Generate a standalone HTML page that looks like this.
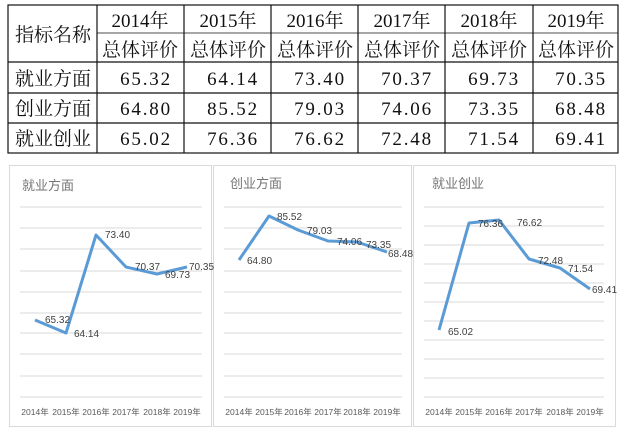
<!DOCTYPE html>
<html><head><meta charset="utf-8"><style>
body{margin:0;background:#fff;width:626px;height:441px;overflow:hidden}
svg{display:block}
.t{font-family:"Liberation Serif","Noto Serif CJK SC",serif;font-size:19px;fill:#111}
.n{letter-spacing:1.8px}
.ax{font-family:"Liberation Sans","Noto Sans CJK SC",sans-serif;font-size:8.5px;fill:#595959}
.lb{font-family:"Liberation Sans",sans-serif;font-size:10px;fill:#404040}
.ti{font-family:"Liberation Sans","Noto Sans CJK SC",sans-serif;font-size:13px;fill:#757575}
</style></head><body>
<svg width="626" height="441" viewBox="0 0 626 441">
<g stroke="#111" stroke-width="1.2" fill="none">
<rect x="8" y="5" width="610" height="148"/>
<line x1="8" y1="62" x2="618" y2="62"/>
<line x1="8" y1="93" x2="618" y2="93"/>
<line x1="8" y1="123" x2="618" y2="123"/>
<line x1="97" y1="33" x2="618" y2="33" stroke-width="0.8"/>
<line x1="97" y1="5" x2="97" y2="153"/>
<line x1="184" y1="5" x2="184" y2="153"/>
<line x1="271" y1="5" x2="271" y2="153"/>
<line x1="358" y1="5" x2="358" y2="153"/>
<line x1="445" y1="5" x2="445" y2="153"/>
<line x1="533" y1="5" x2="533" y2="153"/>
</g>
<g class="t" text-anchor="middle">
<text x="53" y="41">指标名称</text>
<text x="140" y="27">2014年</text><text x="228" y="27">2015年</text><text x="315" y="27">2016年</text><text x="402" y="27">2017年</text><text x="489" y="27">2018年</text><text x="576" y="27">2019年</text>
<text x="140" y="56">总体评价</text><text x="228" y="56">总体评价</text><text x="315" y="56">总体评价</text><text x="402" y="56">总体评价</text><text x="489" y="56">总体评价</text><text x="576" y="56">总体评价</text>
<text x="53" y="85">就业方面</text><text x="53" y="115">创业方面</text><text x="53" y="145">就业创业</text>
</g>
<g class="t n" text-anchor="middle">
<text x="146" y="85">65.32</text><text x="233" y="85">64.14</text><text x="320" y="85">73.40</text><text x="407" y="85">70.37</text><text x="494" y="85">69.73</text><text x="581" y="85">70.35</text>
<text x="146" y="115">64.80</text><text x="233" y="115">85.52</text><text x="320" y="115">79.03</text><text x="407" y="115">74.06</text><text x="494" y="115">73.35</text><text x="581" y="115">68.48</text>
<text x="146" y="145">65.02</text><text x="233" y="145">76.36</text><text x="320" y="145">76.62</text><text x="407" y="145">72.48</text><text x="494" y="145">71.54</text><text x="581" y="145">69.41</text>
</g>
<g stroke="#d9d9d9" fill="none" stroke-width="1">
<rect x="9.5" y="165.5" width="202" height="261"/>
<rect x="213.5" y="165.5" width="198" height="261"/>
<rect x="413.5" y="165.5" width="202" height="261"/>
</g>
<g stroke="#d9d9d9" stroke-width="1">
<path d="M20 207H202M20 228H202M20 249H202M20 271H202M20 292H202M20 313H202M20 333H202M20 354H202M20 376H202M20 397H202"/>
<path d="M224 207H402M224 228H402M224 249H402M224 271H402M224 292H402M224 313H402M224 333H402M224 354H402M224 376H402M224 397H402"/>
<path d="M424 207H604M424 226H604M424 245H604M424 264H604M424 283H604M424 302H604M424 321H604M424 340H604M424 359H604M424 378H604M424 397H604"/>
</g>
<g class="ti"><text x="22" y="190">就业方面</text><text x="230" y="188">创业方面</text><text x="432" y="188">就业创业</text></g>
<g fill="none" stroke="#5b9bd5" stroke-width="3" stroke-linejoin="round">
<polyline points="35,320 66,333 96,235 126,267 157,274 187,267"/>
<polyline points="239,260 269,216 298,230 328,241 357,242 387,252"/>
<polyline points="439,330 469,223 499,220 529,259 560,268 590,289"/>
</g>
<g class="lb">
<text x="45" y="323">65.32</text><text x="74" y="337">64.14</text><text x="105" y="238">73.40</text><text x="135" y="270">70.37</text><text x="165" y="278">69.73</text><text x="189" y="270">70.35</text>
<text x="247" y="264">64.80</text><text x="277" y="220">85.52</text><text x="307" y="234">79.03</text><text x="337" y="245">74.06</text><text x="366" y="248">73.35</text><text x="388" y="257">68.48</text>
<text x="448" y="335">65.02</text><text x="478" y="227">76.36</text><text x="517" y="226">76.62</text><text x="538" y="264">72.48</text><text x="568" y="272">71.54</text><text x="592" y="293">69.41</text>
</g>
<g class="ax" text-anchor="middle">
<text x="35" y="415">2014年</text><text x="66" y="415">2015年</text><text x="96" y="415">2016年</text><text x="126" y="415">2017年</text><text x="157" y="415">2018年</text><text x="187" y="415">2019年</text>
<text x="239" y="415">2014年</text><text x="269" y="415">2015年</text><text x="298" y="415">2016年</text><text x="328" y="415">2017年</text><text x="357" y="415">2018年</text><text x="387" y="415">2019年</text>
<text x="439" y="415">2014年</text><text x="469" y="415">2015年</text><text x="499" y="415">2016年</text><text x="529" y="415">2017年</text><text x="560" y="415">2018年</text><text x="590" y="415">2019年</text>
</g>
</svg>
</body></html>
